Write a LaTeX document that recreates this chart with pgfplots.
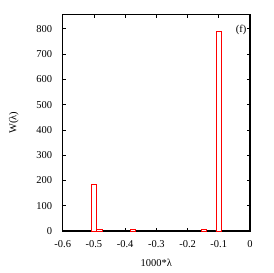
\documentclass[border=0pt]{standalone}
\usepackage{fontspec}
\setmainfont{Liberation Serif}
\usepackage{pgfplots}
\pgfplotsset{compat=1.18}
\begin{document}
\begin{tikzpicture}
\begin{axis}[name=ax,
  scale only axis, width=187.3pt, height=216.3pt,
  xmin=-0.6, xmax=0, ymin=0, ymax=856,
  xtick={-0.6,-0.5,-0.4,-0.3,-0.2,-0.1,0},
  xticklabels={-0.6,-0.5,-0.4,-0.3,-0.2,-0.1,0},
  ytick={0,100,...,800},
  tick align=inside, major tick length=3pt,
  tick style={black, line width=0.8pt},
  axis line style={line width=1.2pt},
  font=\fontsize{10.5}{12}\selectfont,
  /pgf/number format/assume math mode=true,
  yticklabel style={xshift=-7pt},
  xticklabel style={yshift=-6pt},
  xlabel={1000*λ}, ylabel={W(λ)},
  xlabel style={yshift=-5pt},
  ylabel style={yshift=11pt},
  clip=false,
]
\addplot[ybar, bar width=0.017, draw=red, fill=white, line width=0.6pt]
  coordinates {(-0.4995,185) (-0.4825,5) (-0.3745,5) (-0.148,5) (-0.101,790)};
\node[anchor=north east] at (rel axis cs:1,0.97) {(f)};
\end{axis}
\path (ax.south west) ++(-62.7pt,-42pt) rectangle ++(273pt,273pt);
\end{tikzpicture}
\end{document}
